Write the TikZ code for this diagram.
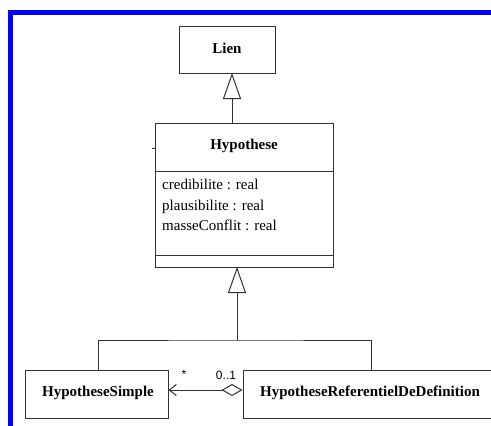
\documentclass[tikz,border=0pt]{standalone}
\usepackage{fontspec}
\setmainfont{Liberation Serif}
\newfontfamily\multfont{Liberation Sans}
\usetikzlibrary{arrows.meta,calc}
\definecolor{umlline}{gray}{0.2}
\definecolor{frameblue}{RGB}{0,0,255}
\tikzset{
  x=1pt, y=-1pt,
  classbox/.style={draw=umlline, line width=1pt, fill=white, inner sep=0pt},
  classname/.style={font=\fontsize{15}{17}\selectfont\bfseries, inner sep=0pt},
  attr/.style={font=\fontsize{15}{17}\selectfont, inner sep=0pt, anchor=west},
  mult/.style={font=\multfont\fontsize{12}{14}\selectfont, inner sep=0pt},
  conn/.style={draw=umlline, line width=1pt},
  gen/.style={conn, -{Triangle[open, length=26pt, width=18pt, fill=white, line width=1pt]}},
  assoc/.style={conn, {Diamond[open, length=21pt, width=12pt, fill=white, line width=1pt]}-{Straight Barb[length=7pt, width=11pt, line width=1pt]}},
}
\begin{document}
\begin{tikzpicture}
\useasboundingbox (0,0) rectangle (491,426);
\clip (0,0) rectangle (491,426);
\fill[white] (0,0) rectangle (491,426);
% frame
\fill[frameblue] (8,10) rectangle (491,14.5);
\fill[frameblue] (8,10) rectangle (12.7,426);

% Lien
\node[classbox, minimum width=96pt, minimum height=47pt] (lien) at (227,49.5) {};
\node[classname] (lienname) at (227,48) {Lien};

% Hypothese
\node[classbox, minimum width=178pt, minimum height=144pt] (hyp) at (244,195) {};
\node[classname] (hypname) at (244,146) {Hypothese};
\draw[conn] (155,171) -- (333,171);
\draw[conn] (155,255) -- (333,255);
\node[attr, text height=10.5pt, text depth=3pt] (a1) at (162,186) {credibilite : real};
\node[attr, text height=10.5pt, text depth=3pt] (a2) at (162,206.5) {plausibilite : real};
\node[attr, text height=10.5pt, text depth=3pt] (a3) at (162,227) {masseConflit : real};
\draw[conn, line width=0.8pt] (152,148) -- (155,148);

% Subclasses
\node[classbox, minimum width=143pt, minimum height=48pt] (hs) at (96.5,394) {};
\node[classname] (hsname) at (98,393) {HypotheseSimple};
\node[classbox, minimum width=256pt, minimum height=48pt] (hr) at (371,394) {};
\node[classname] (hrname) at (370,393) {HypotheseReferentielDeDefinition};

% generalization Hypothese -> Lien
\coordinate (g1) at (232,123);
\coordinate (g1t) at (232,73);
\draw[gen] (g1) -- (g1t);

% generalization subclasses -> Hypothese
\coordinate (j) at (237,340);
\coordinate (jt) at (237,267);
\draw[conn] (98,370) |- (j) -| (371,370);
\draw[gen] (j) -- (jt);

% association
\coordinate (aa) at (200,390);
\draw[assoc] (hr.west |- aa) -- (hs.east |- aa);
\node[mult] (m1) at (184,374) {*};
\node[mult] (m2) at (226,375) {0..1};
\end{tikzpicture}
\end{document}
